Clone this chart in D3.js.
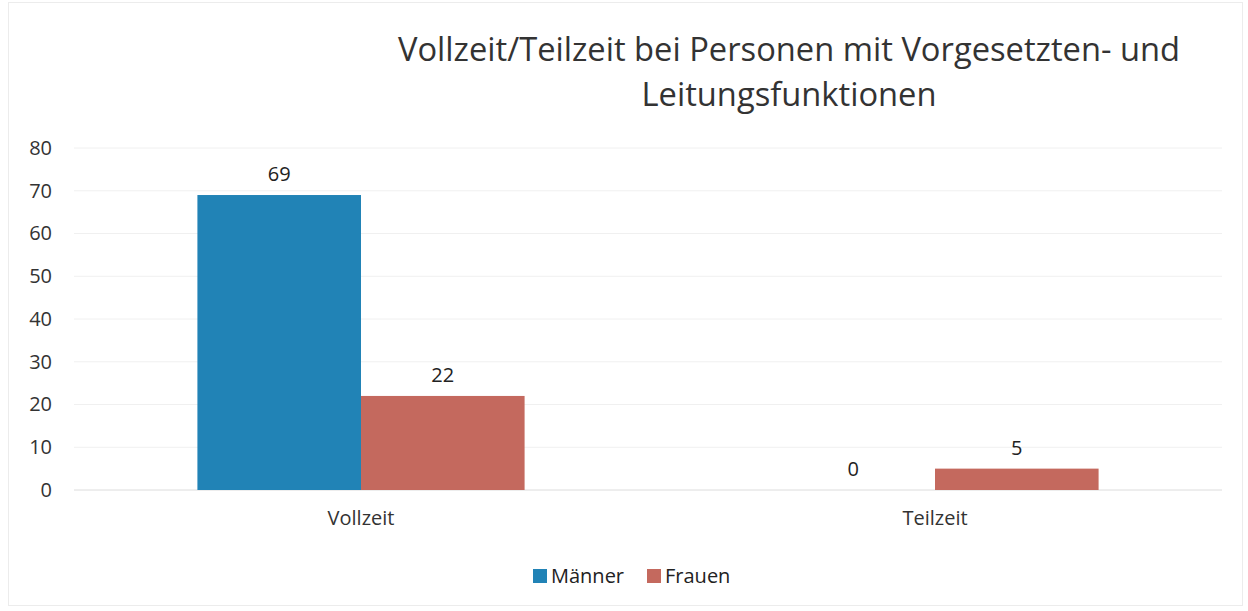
<!DOCTYPE html>
<html><head><meta charset="utf-8">
<script src="https://cdn.jsdelivr.net/npm/d3@7"></script>
<style>body{margin:0;background:#fff}svg{display:block;font-family:"Open Sans",sans-serif}</style>
</head><body><svg id="c" width="1248" height="611"></svg>
<script>
const categories = ["Vollzeit", "Teilzeit"];
const seriesNames = ["Männer", "Frauen"];
const maenner = [69, 0];
const frauen = [22, 5];
const yTicks = [0, 10, 20, 30, 40, 50, 60, 70, 80];
const titleLines = ["Vollzeit/Teilzeit bei Personen mit Vorgesetzten- und", "Leitungsfunktionen"];
const colors = ["#2183b6", "#c4695e"];

const svg = d3.select("#c");
const W = 1248, H = 611;
const m = {left: 74, right: 26, top: 148, bottom: 121};
const iw = W - m.left - m.right, ih = H - m.top - m.bottom;

svg.append("rect").attr("x", 8.5).attr("y", 2.5).attr("width", W - 14).attr("height", H - 8)
  .attr("fill", "none").attr("stroke", "#ececec");

const y = d3.scaleLinear().domain([0, 80]).range([m.top + ih, m.top]);
const x0 = d3.scaleBand().domain(categories).range([m.left, m.left + iw]).paddingInner(0.43).paddingOuter(0.215);
const x1 = d3.scaleBand().domain(seriesNames).range([0, x0.bandwidth()]);

const g = svg.append("g");
g.selectAll("line.grid").data(yTicks).join("line")
  .attr("x1", m.left).attr("x2", m.left + iw)
  .attr("y1", d => y(d)).attr("y2", d => y(d))
  .attr("stroke", d => d === 0 ? "#dcdcdc" : "#f0f0f0").attr("stroke-width", 1);

const yAxis = d3.axisLeft(y).tickValues(yTicks).tickSize(0).tickPadding(22);
svg.append("g").attr("transform", `translate(${m.left},0)`).call(yAxis)
  .call(a => a.select(".domain").remove())
  .selectAll("text").attr("font-size", 20).attr("fill", "#333").attr("font-family", "Open Sans");

const xAxis = d3.axisBottom(x0).tickSize(0).tickPadding(21);
svg.append("g").attr("transform", `translate(0,${y(0)})`).call(xAxis)
  .call(a => a.select(".domain").remove())
  .selectAll("text").attr("font-size", 20).attr("fill", "#333").attr("font-family", "Open Sans");

const data = categories.map((c, i) => ({cat: c, vals: [
  {s: seriesNames[0], v: maenner[i], c: colors[0]},
  {s: seriesNames[1], v: frauen[i], c: colors[1]}]}));

const grp = svg.selectAll("g.cat").data(data).join("g").attr("transform", d => `translate(${x0(d.cat)},0)`);
grp.selectAll("rect").data(d => d.vals).join("rect")
  .attr("x", d => x1(d.s)).attr("width", x1.bandwidth())
  .attr("y", d => y(d.v)).attr("height", d => y(0) - y(d.v)).attr("fill", d => d.c);
grp.selectAll("text").data(d => d.vals).join("text")
  .attr("x", d => x1(d.s) + x1.bandwidth() / 2).attr("y", d => y(d.v) - 14)
  .attr("text-anchor", "middle").attr("font-size", 20).attr("fill", "#222").text(d => d.v);

svg.selectAll("text.title").data(titleLines).join("text").attr("class", "title")
  .attr("x", 789).attr("y", (d, i) => 61 + i * 45).attr("text-anchor", "middle")
  .attr("font-size", 32.7).attr("fill", "#333").text(d => d);

const leg = svg.append("g").attr("transform", "translate(533,576)");
const items = leg.selectAll("g").data(seriesNames).join("g").attr("transform", (d, i) => `translate(${i * 114},0)`);
items.append("rect").attr("x", 0).attr("y", -7).attr("width", 14).attr("height", 14).attr("fill", (d, i) => colors[i]);
items.append("text").attr("x", 18).attr("y", 7).attr("font-size", 20).attr("fill", "#222").text(d => d);
</script></body></html>
